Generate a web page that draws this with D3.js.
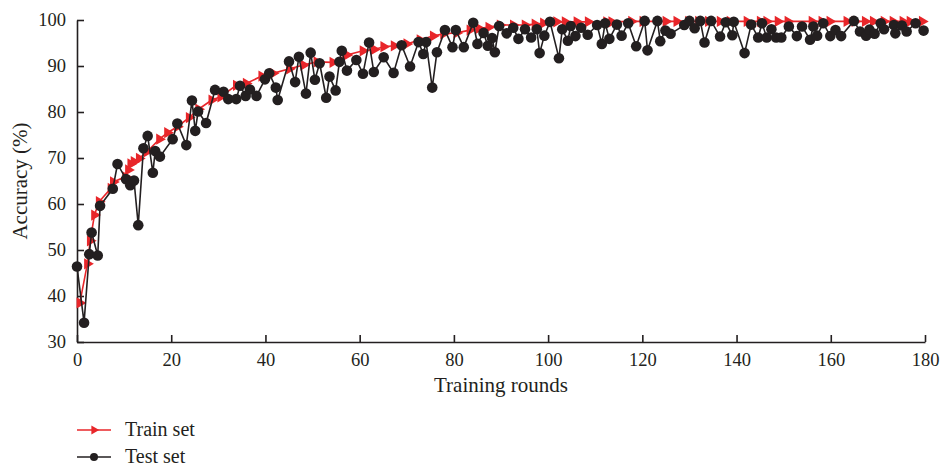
<!DOCTYPE html>
<html><head><meta charset="utf-8">
<script src="https://cdn.jsdelivr.net/npm/d3@7"></script>
<style>body{margin:0;background:#fff}svg{display:block}text{font-family:"Liberation Serif","Times New Roman",serif;fill:#231f20}</style>
</head><body><svg id="c" width="943" height="468"></svg>
<script>
const trainX=[0.6,2.2,2.8,3.7,4.7,7.2,7.7,10.3,10.9,11.4,12.1,13.2,14.9,17.5,19.2,21.3,23.8,25.8,28.6,30.5,33.8,35.9,39.2,41.6,45.1,48.1,50.9,54.3,57.3,60.7,63.1,65.1,67.3,70.0,72.8,75.6,77.8,80.6,83.4,85.3,87.4,89.8,92.6,95.1,97.2,99.0,101.8,103.6,106.1,108.5,112.4,113.5,117.7,120.1,125.0,127.3,129.8,131.9,134.0,136.5,138.6,142.2,145.0,146.4,148.8,150.9,156.0,158.1,159.8,163.4,165.1,167.3,169.0,171.3,173.2,175.3,176.8,179.4];
const trainY=[38.5,47,52,57.6,60.5,63.4,64.8,65.9,67.4,68.7,69.2,69.9,71.4,74.1,75.5,76.8,78.8,80.6,82.6,83.3,85.8,86.2,87.8,88.4,89.4,90.2,90.9,90.8,92.4,93.3,93.6,94.2,94.4,94.8,95.7,96.5,97.0,97.2,97.8,98.2,98.4,98.9,98.9,98.9,99.1,99.3,99.6,99.6,99.6,99.6,99.6,99.6,99.7,99.7,99.7,99.7,99.7,99.7,99.7,99.7,99.7,99.7,99.7,99.7,99.7,99.7,99.7,99.7,99.7,99.7,99.7,99.7,99.7,99.7,99.7,99.7,99.7,99.7];
const testX=[0,1.5,2.6,3.1,4.4,4.9,7.6,8.6,10.4,11.3,12.1,13.0,14.1,15.0,16.1,16.6,17.6,20.3,21.3,23.2,24.4,25.1,25.7,27.4,29.3,31.1,32.1,33.8,34.6,35.8,36.7,38.1,39.9,40.8,42.2,42.6,45.0,46.3,47.1,48.6,49.6,50.5,51.5,52.9,53.6,54.9,55.7,56.2,57.3,59.3,60.7,62.0,63.0,65.1,67.2,68.9,70.7,72.5,73.5,74.1,75.4,76.4,78.1,79.7,80.4,82.1,84.1,85.0,86.3,87.2,88.1,88.7,89.6,91.2,92.6,93.7,95.1,96.4,97.6,98.2,99.2,100.4,102.3,103.0,104.2,104.8,105.8,107.0,108.4,110.4,111.4,112.1,113.0,114.6,115.6,117.0,118.7,120.5,121.1,123.2,123.8,124.9,126.0,128.9,130.0,131.1,132.3,133.2,134.6,136.5,137.7,139.1,139.4,141.7,143.1,144.6,145.4,146.4,147.4,148.4,149.5,151.1,152.8,153.9,155.6,156.3,157.1,158.4,159.9,161.0,162.2,164.9,166.2,167.5,168.2,169.3,170.6,171.3,173.4,173.7,175.1,176.1,178.0,179.7];
const testY=[46.4,34.2,49.1,53.8,48.8,59.6,63.3,68.7,65.4,64.1,65.1,55.4,72.1,74.8,66.8,71.5,70.3,74.1,77.5,72.8,82.5,75.9,80.1,77.6,84.8,84.4,82.8,82.8,85.7,83.5,84.9,83.5,87.1,88.4,85.3,82.6,91.0,86.5,92.0,84.0,92.9,87.0,90.6,83.1,87.7,84.7,90.9,93.3,89.0,91.3,88.3,95.1,88.7,91.9,88.5,94.5,89.9,95.2,92.6,95.2,85.3,93.0,97.8,94.1,97.8,94.1,99.4,94.8,97.2,94.4,96.1,93.0,98.7,97.1,98.3,95.9,98.0,96.2,98.0,92.8,96.6,99.6,91.7,98.0,95.5,98.7,96.5,98.3,96.8,98.9,94.8,99.3,95.9,99.0,96.6,99.3,94.3,99.8,93.4,99.8,95.4,97.7,97.0,98.9,99.8,98.2,99.8,95.1,99.8,96.4,99.5,96.7,99.6,92.8,99.0,96.2,99.3,96.2,98.0,96.2,96.2,98.6,96.5,98.6,95.7,98.6,96.6,99.3,96.5,97.8,96.5,99.8,97.5,96.6,97.9,97.0,99.3,98.0,98.9,97.1,98.8,97.5,99.3,97.7];
const xTicks=[0,20,40,60,80,100,120,140,160,180];
const yTicks=[30,40,50,60,70,80,90,100];
const seriesNames=["Train set","Test set"];
const colors=["#e8262a","#231f20"];

const svg=d3.select("#c");
const m={l:77,r:925,t:20,b:342};
const x=d3.scaleLinear().domain([0,180]).range([m.l,m.r]);
const y=d3.scaleLinear().domain([30,100]).range([m.b,m.t]);

const xa=svg.append("g").attr("transform",`translate(0,${m.b})`)
 .call(d3.axisBottom(x).tickValues(xTicks).tickSizeInner(-7).tickSizeOuter(0).tickPadding(11));
const ya=svg.append("g").attr("transform",`translate(${m.l},0)`)
 .call(d3.axisLeft(y).tickValues(yTicks).tickSizeInner(-7).tickSizeOuter(0).tickPadding(11));
[xa,ya].forEach(a=>{a.selectAll("path,line").attr("stroke","#231f20").attr("stroke-width",1.6);
 a.selectAll("text").attr("font-size",18.5).attr("font-family","Liberation Serif, serif").attr("fill","#231f20");});

svg.append("text").attr("x",(m.l+m.r)/2).attr("y",392).attr("text-anchor","middle").attr("font-size",21).text("Training rounds");
svg.append("text").attr("transform",`translate(27,${(m.t+m.b)/2}) rotate(-90)`).attr("text-anchor","middle").attr("font-size",21).text("Accuracy (%)");

const tri=d3.symbol().type(d3.symbolTriangle).size(55);
const train=trainX.map((v,i)=>[v,trainY[i]]);
const test=testX.map((v,i)=>[v,testY[i]]);
const line=d3.line().x(d=>x(d[0])).y(d=>y(d[1]));

svg.append("path").datum(train).attr("d",line).attr("fill","none").attr("stroke",colors[0]).attr("stroke-width",1.6);
svg.selectAll(".tr").data(train).join("path").attr("d",tri).attr("fill",colors[0])
 .attr("transform",d=>`translate(${x(d[0])},${y(d[1])}) rotate(90)`);

svg.append("path").datum(test).attr("d",line).attr("fill","none").attr("stroke",colors[1]).attr("stroke-width",1.6);
svg.selectAll(".te").data(test).join("circle").attr("cx",d=>x(d[0])).attr("cy",d=>y(d[1])).attr("r",5.3).attr("fill",colors[1]);

// legend
const lg=svg.append("g");
[0,1].forEach(i=>{
 const yy=430+i*27;
 lg.append("line").attr("x1",77).attr("x2",111).attr("y1",yy).attr("y2",yy).attr("stroke",colors[i]).attr("stroke-width",1.6);
 if(i===0) lg.append("path").attr("d",d3.symbol().type(d3.symbolTriangle).size(35)).attr("fill",colors[0]).attr("transform",`translate(94,${yy}) rotate(90)`);
 else lg.append("circle").attr("cx",94).attr("cy",yy).attr("r",4).attr("fill",colors[1]);
 lg.append("text").attr("x",125).attr("y",yy+6).attr("font-size",20).text(seriesNames[i]);
});
</script></body></html>
